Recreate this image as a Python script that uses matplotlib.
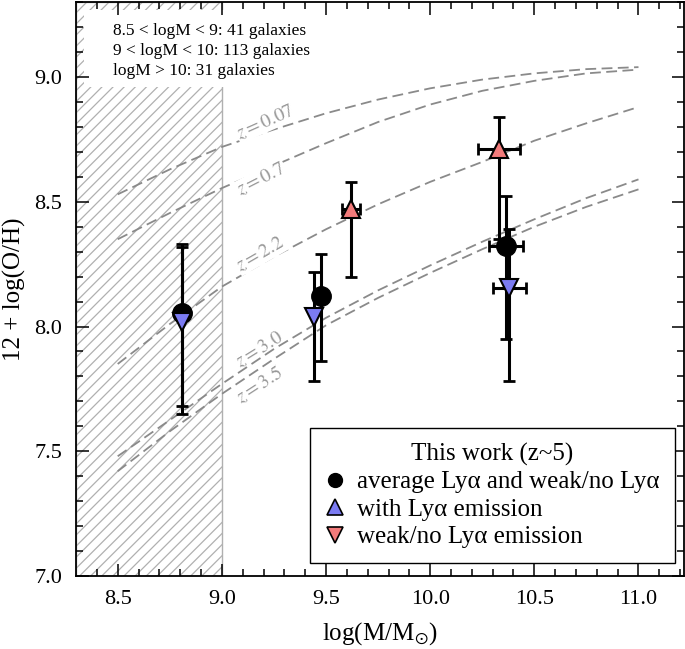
import numpy as np
import matplotlib
matplotlib.use("Agg")
import matplotlib.pyplot as plt
from matplotlib.lines import Line2D
from matplotlib.patches import Rectangle

plt.rcParams['font.family'] = ['Liberation Serif', 'DejaVu Serif']
plt.rcParams['mathtext.fontset'] = 'stix'
plt.rcParams['hatch.color'] = '#a8a8a8'
plt.rcParams['hatch.linewidth'] = 0.9

# mass-metallicity relations at different redshifts
mzr_mass = [8.5, 8.75, 9.0, 9.25, 9.5, 9.75, 10.0, 10.25, 10.5, 10.75, 11.0]
mzr_z007 = [8.53, 8.63, 8.72, 8.79, 8.855, 8.91, 8.955, 8.99, 9.015, 9.032, 9.04]
mzr_z07 = [8.35, 8.455, 8.555, 8.645, 8.735, 8.82, 8.89, 8.945, 8.985, 9.015, 9.03]
mzr_z22 = [7.85, 8.01, 8.16, 8.28, 8.39, 8.49, 8.58, 8.66, 8.745, 8.815, 8.88]
mzr_z30 = [7.48, 7.625, 7.77, 7.91, 8.035, 8.145, 8.245, 8.34, 8.43, 8.515, 8.59]
mzr_z35 = [7.42, 7.58, 7.73, 7.87, 8.005, 8.115, 8.215, 8.31, 8.40, 8.48, 8.55]
curve_labels = ['z = 0.07', 'z = 0.7', 'z = 2.2', 'z = 3.0', 'z = 3.5']

# this work, z~5
avg_x = [8.81, 9.476, 10.365]
avg_y = [8.056, 8.124, 8.324]
avg_lo = [7.65, 7.86, 7.95]
avg_hi = [8.33, 8.29, 8.524]
avg_xerr = [0.0, 0.0, 0.082]

lya_x = [8.81, 9.44, 10.38]
lya_y = [8.02, 8.04, 8.156]
lya_lo = [7.68, 7.78, 7.78]
lya_hi = [8.32, 8.22, 8.39]
lya_xerr = [0.0, 0.0, 0.08]

nolya_x = [9.62, 10.33]
nolya_y = [8.47, 8.71]
nolya_lo = [8.20, 8.35]
nolya_hi = [8.58, 8.84]
nolya_xerr = [0.045, 0.10]

sample_text = ["8.5 < logM < 9: 41 galaxies",
               "9 < logM < 10: 113 galaxies",
               "logM > 10: 31 galaxies"]


def main():
    fig = plt.figure(figsize=(6.85, 6.49), dpi=100)
    ax = fig.add_axes([0.111, 0.1125, 0.888, 0.884])

    # low-mass region (hatched)
    ax.axvspan(8.3, 9.0, facecolor='none', edgecolor='#b0b0b0', hatch='///',
               linewidth=1.0, zorder=0)

    grey = '#8a8a8a'
    curves = [mzr_z007, mzr_z07, mzr_z22, mzr_z30, mzr_z35]
    for c in curves:
        ax.plot(mzr_mass, c, ls=(0, (6, 3)), color=grey, lw=1.3, zorder=1)

    label_pos = [(9.21, 8.82, 24), (9.19, 8.59, 27), (9.185, 8.29, 30),
                 (9.18, 7.91, 32), (9.18, 7.765, 33)]
    for i, (lab, (lx, ly, rot)) in enumerate(zip(curve_labels, label_pos)):
        box = dict(facecolor='white', edgecolor='none', pad=0.5) if i < 3 else None
        ax.text(lx, ly, '$' + lab + '$', color='#999999', fontsize=14, rotation=rot,
                ha='center', va='center', zorder=2, bbox=box)

    eb = dict(fmt='none', ecolor='k', elinewidth=2.2, capsize=4, capthick=2.0)
    # weak / no Lya
    ax.errorbar(nolya_x, nolya_y,
                yerr=[np.subtract(nolya_y, nolya_lo), np.subtract(nolya_hi, nolya_y)],
                xerr=nolya_xerr, zorder=3, **eb)
    ax.plot(nolya_x, nolya_y, '^', ms=12.5, mfc='#f27b7b', mec='k', mew=1.5, zorder=4)
    # average
    ax.errorbar(avg_x, avg_y,
                yerr=[np.subtract(avg_y, avg_lo), np.subtract(avg_hi, avg_y)],
                xerr=avg_xerr, zorder=5, **eb)
    ax.plot(avg_x, avg_y, 'o', ms=14, mfc='k', mec='k', zorder=6)
    # with Lya
    ax.errorbar(lya_x, lya_y,
                yerr=[np.subtract(lya_y, lya_lo), np.subtract(lya_hi, lya_y)],
                xerr=lya_xerr, zorder=7, **eb)
    ax.plot(lya_x, lya_y, 'v', ms=12.5, mfc='#7b7bf2', mec='k', mew=1.5, zorder=8)

    # white box behind sample sizes
    ax.add_patch(Rectangle((8.34, 8.96), 1.25, 0.31, facecolor='white',
                           edgecolor='none', zorder=1.5))
    ax.text(8.477, 9.215, '\n'.join(sample_text), fontsize=12.5, va='top',
            ha='left', linespacing=1.3, zorder=9)

    handles = [
        Line2D([], [], ls='none', marker='o', ms=10, mfc='k', mec='k'),
        Line2D([], [], ls='none', marker='^', ms=11, mfc='#7b7bf2', mec='k', mew=1.2),
        Line2D([], [], ls='none', marker='v', ms=11, mfc='#f27b7b', mec='k', mew=1.2),
    ]
    labels = ['average Lyα and weak/no Lyα',
              'with Lyα emission',
              'weak/no Lyα emission']
    leg = ax.legend(handles, labels, title='This work (z~5)', loc='lower right',
                    bbox_to_anchor=(0.984, 0.022), fontsize=18, title_fontsize=18,
                    fancybox=False, edgecolor='k', framealpha=1, handlelength=0.8,
                    handletextpad=0.5, labelspacing=0.2, borderpad=0.6,
                    borderaxespad=0)
    leg.get_frame().set_linewidth(1.0)

    ax.set_xlim(8.3, 11.22)
    ax.set_ylim(7.0, 9.3)
    ax.set_xticks([8.5, 9.0, 9.5, 10.0, 10.5, 11.0])
    ax.set_yticks([7.0, 7.5, 8.0, 8.5, 9.0])
    ax.set_xticks(np.arange(8.4, 11.21, 0.1), minor=True)
    ax.set_yticks(np.arange(7.0, 9.31, 0.1), minor=True)
    ax.tick_params(which='both', direction='in', top=True, right=True, width=1.1,
                   labelsize=16)
    ax.tick_params(which='major', length=9)
    ax.tick_params(axis='x', which='major', pad=10)
    ax.tick_params(axis='y', which='major', pad=10)
    ax.tick_params(which='minor', length=5)
    for s in ax.spines.values():
        s.set_linewidth(1.3)

    ax.set_xlabel(r'log(M/M$_{\odot}$)', fontsize=18, labelpad=8)
    ax.set_ylabel('12 + log(O/H)', fontsize=18, labelpad=6)

    fig.savefig('out.png', dpi=100)


if __name__ == "__main__":
    main()
